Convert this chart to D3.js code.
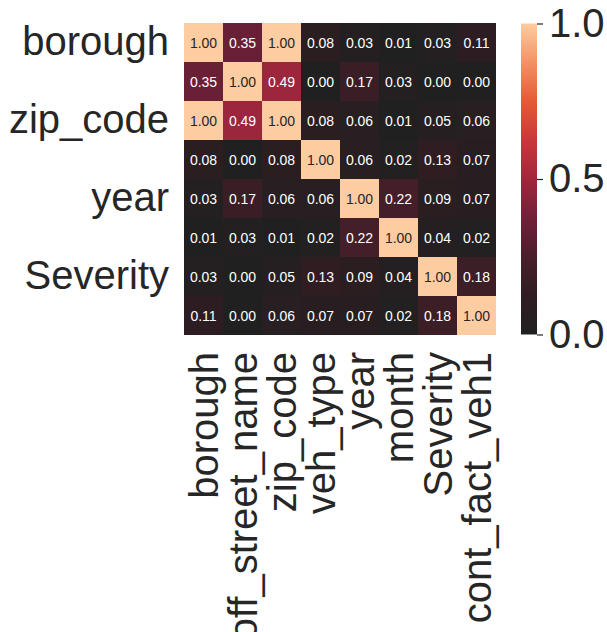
<!DOCTYPE html>
<html>
<head>
<meta charset="utf-8">
<script src="https://cdn.jsdelivr.net/npm/d3@7"></script>
<style>
  html, body { margin: 0; padding: 0; background: #ffffff; }
  svg { display: block; }
  text { font-family: "Liberation Sans", Arial, "DejaVu Sans", sans-serif; }
</style>
</head>
<body>
<svg id="chart" width="607" height="632"></svg>
<script>
// ---- data ----
const categories = ["borough", "off_street_name", "zip_code", "veh_type", "year", "month", "Severity", "cont_fact_veh1"];
const yTickLabels = ["borough", "zip_code", "year", "Severity"];
const row_borough        = [1.00, 0.35, 1.00, 0.08, 0.03, 0.01, 0.03, 0.11];
const row_off_street     = [0.35, 1.00, 0.49, 0.00, 0.17, 0.03, 0.00, 0.00];
const row_zip_code       = [1.00, 0.49, 1.00, 0.08, 0.06, 0.01, 0.05, 0.06];
const row_veh_type       = [0.08, 0.00, 0.08, 1.00, 0.06, 0.02, 0.13, 0.07];
const row_year           = [0.03, 0.17, 0.06, 0.06, 1.00, 0.22, 0.09, 0.07];
const row_month          = [0.01, 0.03, 0.01, 0.02, 0.22, 1.00, 0.04, 0.02];
const row_severity       = [0.03, 0.00, 0.05, 0.13, 0.09, 0.04, 1.00, 0.18];
const row_cont_fact_veh1 = [0.11, 0.00, 0.06, 0.07, 0.07, 0.02, 0.18, 1.00];
const colorbarTicks = [0.0, 0.5, 1.0];

const matrix = [row_borough, row_off_street, row_zip_code, row_veh_type,
                row_year, row_month, row_severity, row_cont_fact_veh1];

// ---- colour map (upper half of seaborn "icefire") ----
const cmapStops = ["#202020", "#2f1d22", "#4a1f2c", "#712038", "#a0273c", "#c9373a", "#e45b35", "#f39264", "#fdcca0"];
const color = d3.scaleLinear()
  .domain(d3.range(cmapStops.length).map(i => i / (cmapStops.length - 1)))
  .range(cmapStops)
  .interpolate(d3.interpolateRgb)
  .clamp(true);

const svg = d3.select("#chart");
const labelFont = 40;

const x = d3.scaleBand().domain(categories).range([184, 496]);
const y = d3.scaleBand().domain(categories).range([23, 335]);

// cells
const cells = [];
matrix.forEach((row, i) => row.forEach((v, j) => cells.push({ r: categories[i], c: categories[j], v })));

svg.append("g").attr("shape-rendering", "crispEdges")
  .selectAll("rect").data(cells).join("rect")
  .attr("x", d => x(d.c))
  .attr("y", d => y(d.r))
  .attr("width", x.bandwidth())
  .attr("height", y.bandwidth())
  .attr("fill", d => color(d.v));

svg.append("g").selectAll("text").data(cells).join("text")
  .attr("x", d => x(d.c) + x.bandwidth() / 2)
  .attr("y", d => y(d.r) + y.bandwidth() / 2)
  .attr("text-anchor", "middle")
  .attr("dominant-baseline", "central")
  .attr("font-size", 14)
  .attr("fill", d => d.v > 0.8 ? "#262626" : "#ffffff")
  .text(d => d.v.toFixed(2));

// y axis labels
const yAxis = d3.axisLeft(y).tickValues(yTickLabels).tickSize(0).tickPadding(15);
const gy = svg.append("g").attr("transform", "translate(184,0)").call(yAxis);
gy.select(".domain").remove();
gy.selectAll("text").attr("font-size", labelFont).attr("fill", "#262626")
  .attr("font-family", "'Liberation Sans', Arial, sans-serif");

// x axis labels (rotated)
const xAxis = d3.axisBottom(x).tickSize(0).tickPadding(0);
const gx = svg.append("g").attr("transform", "translate(0,335)").call(xAxis);
gx.select(".domain").remove();
gx.selectAll("text")
  .attr("font-size", labelFont).attr("fill", "#262626")
  .attr("font-family", "'Liberation Sans', Arial, sans-serif")
  .attr("transform", "rotate(-90)")
  .attr("text-anchor", "end")
  .attr("x", -17)
  .attr("y", 0)
  .attr("dy", "0.35em");

// colorbar
const cbX = 521, cbW = 16;
const cbScale = d3.scaleLinear().domain([0, 1]).range([334.5, 23.5]);
const defs = svg.append("defs");
const grad = defs.append("linearGradient").attr("id", "cbgrad")
  .attr("x1", 0).attr("y1", 1).attr("x2", 0).attr("y2", 0);
grad.selectAll("stop").data(d3.range(0, 1.0001, 0.02)).join("stop")
  .attr("offset", d => d)
  .attr("stop-color", d => color(d));
svg.append("rect")
  .attr("x", cbX).attr("y", cbScale(1))
  .attr("width", cbW).attr("height", cbScale(0) - cbScale(1))
  .attr("fill", "url(#cbgrad)");

const cbAxis = d3.axisRight(cbScale).tickValues(colorbarTicks).tickFormat(d3.format(".1f")).tickSize(6).tickPadding(6);
const gc = svg.append("g").attr("transform", `translate(${cbX + cbW},0)`).call(cbAxis);
gc.select(".domain").remove();
gc.selectAll("line").attr("stroke", "#262626").attr("stroke-width", 1.2);
gc.selectAll("text").attr("font-size", labelFont).attr("fill", "#262626")
  .attr("font-family", "'Liberation Sans', Arial, sans-serif");
</script>
</body>
</html>
